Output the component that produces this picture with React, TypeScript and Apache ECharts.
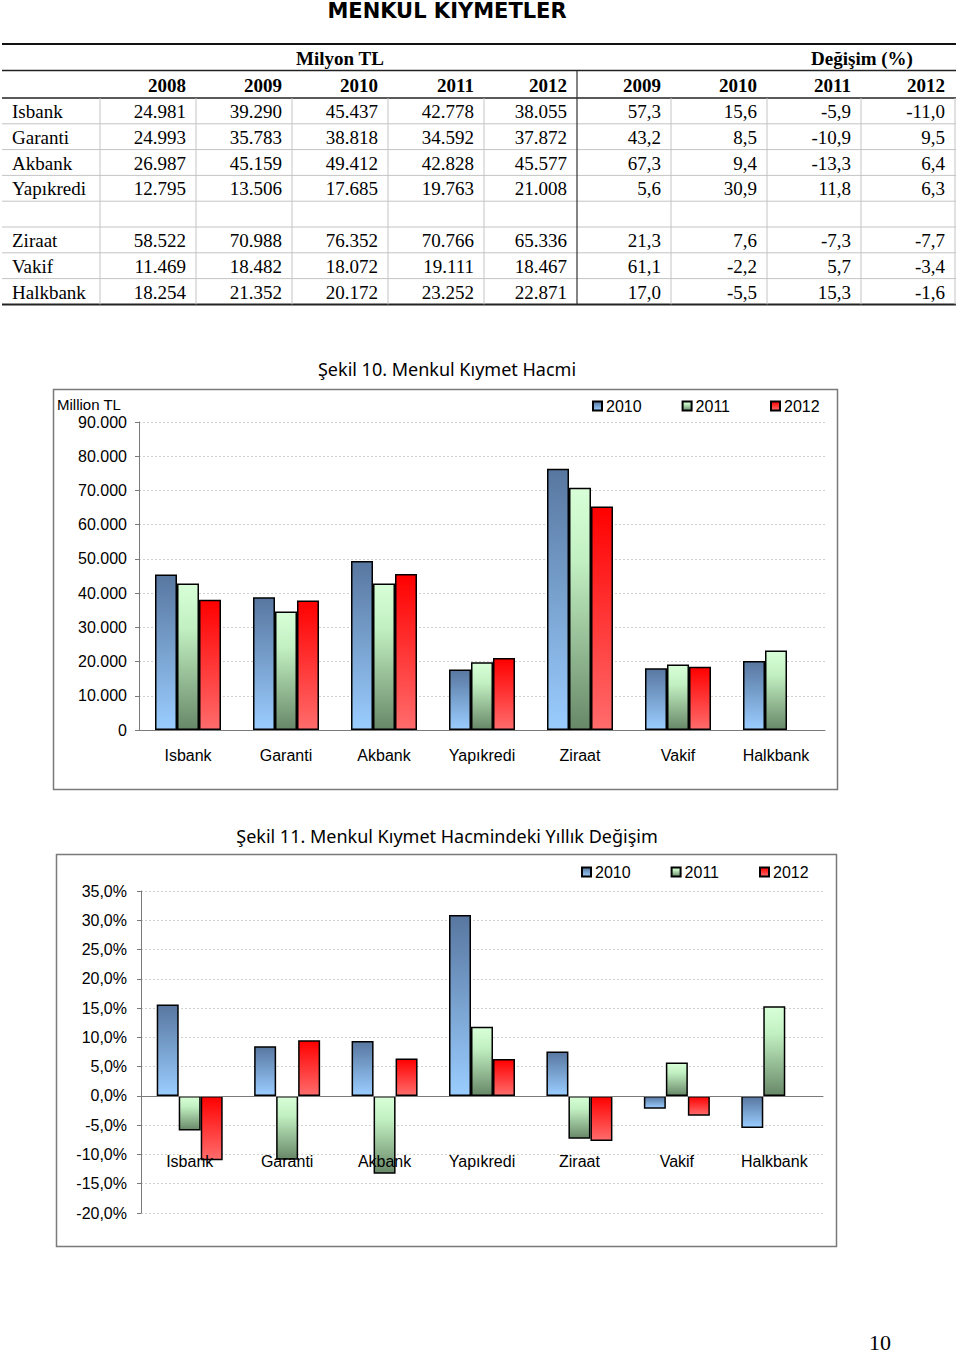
import React, { useEffect, useRef } from "react";
import * as echarts from "echarts";

// ---------- data ----------
const banks = ["Isbank", "Garanti", "Akbank", "Yapıkredi", "Ziraat", "Vakif", "Halkbank"];
const volumeYears = ["2008", "2009", "2010", "2011", "2012"];
const changeYears = ["2009", "2010", "2011", "2012"];
const tl2008 = [24981, 24993, 26987, 12795, 58522, 11469, 18254];
const tl2009 = [39290, 35783, 45159, 13506, 70988, 18482, 21352];
const tl2010 = [45437, 38818, 49412, 17685, 76352, 18072, 20172];
const tl2011 = [42778, 34592, 42828, 19763, 70766, 19111, 23252];
const tl2012 = [38055, 37872, 45577, 21008, 65336, 18467, 22871];
const chg2009 = [57.3, 43.2, 67.3, 5.6, 21.3, 61.1, 17.0];
const chg2010 = [15.6, 8.5, 9.4, 30.9, 7.6, -2.2, -5.5];
const chg2011 = [-5.9, -10.9, -13.3, 11.8, -7.3, 5.7, 15.3];
const chg2012 = [-11.0, 9.5, 6.4, 6.3, -7.7, -3.4, -1.6];
const chartYears = ["2010", "2011", "2012"];
const notCharted2012 = "Halkbank";
const volumeAxis = { min: 0, max: 90000, step: 10000 };
const changeAxis = { min: -20, max: 35, step: 5 };

const pageTitle = "MENKUL KIYMETLER";
const fig10Title = "Şekil 10. Menkul Kıymet Hacmi";
const fig11Title = "Şekil 11. Menkul Kıymet Hacmindeki Yıllık Değişim";
const pageNumber = "10";

// ---------- helpers ----------
const fmtTL = (v: number) => Math.round(v).toString().replace(/\B(?=(\d{3})+(?!\d))/g, ".");
const fmtChg = (v: number) => v.toFixed(1).replace(".", ",");

const grad = (stops: [number, string][]) =>
  new echarts.graphic.LinearGradient(0, 0, 0, 1, stops.map(([offset, color]) => ({ offset, color })));

const fillFor = (year: string) => {
  if (year === "2010") return grad([[0, "#5877a0"], [1, "#9acdff"]]);
  if (year === "2011") return grad([[0, "#d8ffd8"], [0.3, "#c2f0c2"], [1, "#688868"]]);
  return grad([[0, "#ff0000"], [1, "#ff6c6c"]]);
};

const SERIF = "'Liberation Serif', 'Times New Roman', serif";
const SANS = "'Liberation Sans', Arial, sans-serif";
const TITLE = "'Noto Sans', 'DejaVu Sans', sans-serif";

function txt(text: string, x: number, y: number, font: string, align = "left", extra: any = {}) {
  return {
    type: "text",
    x,
    y,
    silent: true,
    style: {
      text,
      font,
      fill: "#000",
      align,
      verticalAlign: "middle",
      textAlign: align,
      textVerticalAlign: "middle",
      ...extra,
    },
  };
}
function ln(x1: number, y1: number, x2: number, y2: number, stroke: string, lineWidth: number) {
  return { type: "line", silent: true, shape: { x1, y1, x2, y2 }, style: { stroke, lineWidth } };
}

function buildTable() {
  const els: any[] = [];
  const L = 2, R = 956;
  const colLines = [100, 196, 292, 388, 484, 577, 671, 767, 861, 955];
  const colRights = colLines.slice(1).map((x) => x - 10);
  const rowTop = 98, rowH = 25.8, nRows = 8;
  const bottom = rowTop + rowH * nRows;

  els.push(ln(L, 44, R, 44, "#111", 2));
  els.push(ln(L, 70.5, R, 70.5, "#222", 1.5));
  els.push(ln(L, rowTop, R, rowTop, "#222", 1.5));
  for (let r = 1; r < nRows; r++) els.push(ln(L, rowTop + rowH * r, R, rowTop + rowH * r, "#c4c4c4", 1));
  els.push(ln(L, bottom, R, bottom, "#222", 2));
  colLines.forEach((x) => {
    if (x === 577) els.push(ln(x, 70.5, x, bottom, "#333", 1.2));
    else els.push(ln(x, rowTop, x, bottom, "#c4c4c4", 1));
  });

  const hb = `bold 19px ${SERIF}`;
  const nf = `19px ${SERIF}`;
  els.push(txt("Milyon TL", 340, 58, hb, "center"));
  els.push(txt("Değişim (%)", 862, 58, hb, "center"));
  [...volumeYears, ...changeYears].forEach((y, i) => els.push(txt(y, colRights[i], 85, hb, "right")));

  const tlCols = [tl2008, tl2009, tl2010, tl2011, tl2012];
  const chCols = [chg2009, chg2010, chg2011, chg2012];
  banks.forEach((b, i) => {
    const row = i < 4 ? i : i + 1;
    const cy = rowTop + rowH * row + rowH / 2 + 0.5;
    els.push(txt(b, 12, cy, nf, "left"));
    tlCols.forEach((col, c) => els.push(txt(fmtTL(col[i]), colRights[c], cy, nf, "right")));
    chCols.forEach((col, c) => els.push(txt(fmtChg(col[i]), colRights[5 + c], cy, nf, "right")));
  });
  return els;
}

export default function App() {
  const ref = useRef<HTMLDivElement>(null);

  useEffect(() => {
    if (!ref.current) return;
    const chart = echarts.init(ref.current, null, { renderer: "svg" });

    const vol = [tl2010, tl2011, tl2012.map((v, i) => (banks[i] === notCharted2012 ? null : v))];
    const chg = [chg2010, chg2011, chg2012.map((v, i) => (banks[i] === notCharted2012 ? null : v))];

    const barSeries = (name: string, data: any[], axisIdx: number) => ({
      type: "bar",
      name,
      xAxisIndex: axisIdx,
      yAxisIndex: axisIdx,
      data,
      barWidth: 22,
      barGap: "0%",
      itemStyle: { color: fillFor(name), borderColor: "#000", borderWidth: 1.5 },
      emphasis: { disabled: true },
    });

    const legendBase = {
      data: chartYears,
      icon: "rect",
      itemWidth: 9,
      itemHeight: 9,
      itemGap: 40,
      selectedMode: false,
      textStyle: { fontFamily: SANS, fontSize: 16, color: "#000", padding: [0, 0, 0, -1] },
    };

    const axisLineStyle = { color: "#7a7a7a", width: 1 };
    const gridLine = { show: true, lineStyle: { color: "#cfcfcf", type: [2, 2], width: 1 } };

    chart.setOption({
      animation: false,
      backgroundColor: "#fff",
      grid: [
        { left: 139, top: 422, width: 686, height: 308, containLabel: false },
        { left: 141, top: 891, width: 682, height: 322, containLabel: false },
      ],
      legend: [
        { ...legendBase, left: 587, top: 393 },
        { ...legendBase, left: 576, top: 859 },
      ],
      xAxis: [
        {
          type: "category",
          gridIndex: 0,
          data: banks,
          axisLine: { lineStyle: axisLineStyle },
          axisTick: { length: 5, lineStyle: axisLineStyle },
          axisLabel: { margin: 17, fontFamily: SANS, fontSize: 16, color: "#000", interval: 0 },
        },
        {
          type: "category",
          gridIndex: 1,
          data: banks,
          z: 5,
          axisLine: { onZero: true, lineStyle: axisLineStyle },
          axisTick: { length: 5, lineStyle: axisLineStyle },
          axisLabel: { margin: -60, fontFamily: SANS, fontSize: 16, color: "#000", interval: 0 },
        },
      ],
      yAxis: [
        {
          type: "value",
          gridIndex: 0,
          min: volumeAxis.min,
          max: volumeAxis.max,
          interval: volumeAxis.step,
          axisLine: { show: true, lineStyle: axisLineStyle },
          axisTick: { show: true, length: 4, lineStyle: axisLineStyle },
          splitLine: gridLine,
          axisLabel: { margin: 12, fontFamily: SANS, fontSize: 16, color: "#000", formatter: (v: number) => fmtTL(v) },
        },
        {
          type: "value",
          gridIndex: 1,
          min: changeAxis.min,
          max: changeAxis.max,
          interval: changeAxis.step,
          axisLine: { show: true, onZero: false, lineStyle: axisLineStyle },
          axisTick: { show: true, length: 4, lineStyle: axisLineStyle },
          splitLine: gridLine,
          axisLabel: { margin: 14, fontFamily: SANS, fontSize: 16, color: "#000", formatter: (v: number) => fmtChg(v) + "%" },
        },
      ],
      series: [
        ...chartYears.map((y, k) => barSeries(y, vol[k], 0)),
        ...chartYears.map((y, k) => barSeries(y, chg[k], 1)),
      ],
      graphic: [
        ...buildTable(),
        txt(pageTitle, 447, 10.5, `bold 21px 'DejaVu Sans', sans-serif`, "center"),
        txt(fig10Title, 447, 369, `18px ${TITLE}`, "center"),
        txt(fig11Title, 447, 836, `18px ${TITLE}`, "center"),
        {
          type: "rect",
          silent: true,
          shape: { x: 53.5, y: 389.5, width: 784, height: 400 },
          style: { fill: "none", stroke: "#7a7a7a", lineWidth: 1.5 },
        },
        {
          type: "rect",
          silent: true,
          shape: { x: 56.5, y: 854.5, width: 780, height: 392 },
          style: { fill: "none", stroke: "#7a7a7a", lineWidth: 1.5 },
        },
        txt("Million TL", 57, 404, `15px ${SANS}`, "left", { letterSpacing: -0.5 }),
        txt(pageNumber, 880, 1342, `22px ${SERIF}`, "center"),
      ],
    });

    return () => chart.dispose();
  }, []);

  return (
    <div
      ref={ref}
      style={{ position: "absolute", left: 0, top: 0, width: 960, height: 1353, background: "#fff" }}
    />
  );
}
